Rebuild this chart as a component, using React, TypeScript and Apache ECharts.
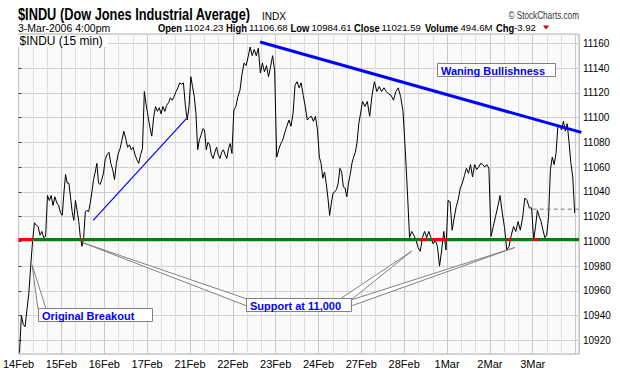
import React, { useEffect, useRef } from "react";
import * as echarts from "echarts";

// ---------- data ----------
const dayLabels = ["14Feb", "15Feb", "16Feb", "17Feb", "21Feb", "22Feb", "23Feb", "24Feb", "27Feb", "28Feb", "1Mar", "2Mar", "3Mar"];

const feb14 = [10910, 10940, 10933, 10931, 10945, 10958, 10980, 11000, 11015, 11013, 11012, 11005, 11008, 11003, 11004, 11037, 11033, 11037, 11029, 11036, 11031, 11029, 11023];
const feb15 = [11021, 11039, 11054, 11047, 11047, 11036, 11024, 11017, 11033, 11025, 11016, 11003, 10996, 11003, 11024, 11025, 11024, 11031, 11040, 11050, 11056, 11063, 11047, 11046, 11050, 11055];
const feb16 = [11066, 11070, 11072, 11063, 11058, 11050, 11063, 11071, 11075, 11082, 11089, 11083, 11076, 11078, 11074, 11076, 11070, 11066, 11063, 11070, 11075, 11121, 11110];
const feb17 = [11101, 11092, 11085, 11100, 11109, 11105, 11108, 11103, 11109, 11105, 11110, 11112, 11116, 11114, 11117, 11121, 11124, 11128, 11127, 11128, 11110, 11098, 11109];
const feb21 = [11133, 11125, 11117, 11103, 11074, 11082, 11086, 11091, 11090, 11074, 11080, 11078, 11070, 11067, 11072, 11076, 11070, 11067, 11072, 11074, 11070, 11067, 11075, 11079, 11071];
const feb22 = [11106, 11109, 11117, 11122, 11135, 11144, 11142, 11149, 11157, 11150, 11155, 11150, 11156, 11136, 11144, 11137, 11142, 11133, 11141, 11150, 11138];
const feb23 = [11068, 11074, 11079, 11082, 11088, 11093, 11098, 11093, 11103, 11126, 11129, 11124, 11128, 11118, 11109, 11098, 11100, 11101, 11097, 11101, 11090];
const feb24 = [11068, 11063, 11051, 11056, 11047, 11035, 11021, 11031, 11039, 11040, 11042, 11047, 11059, 11056, 11044, 11043, 11036, 11047, 11054, 11063, 11068, 11072, 11080, 11095, 11103];
const feb27 = [11113, 11109, 11113, 11101, 11118, 11129, 11121, 11125, 11121, 11124, 11121, 11119, 11118, 11114, 11121, 11124, 11117, 11105];
const feb28 = [11074, 11040, 11003, 11008, 11005, 11001, 10995, 10992, 11003, 11008, 11003, 11008, 11003, 10998, 11001, 10996, 10980, 10993, 11008, 10993];
const mar1 = [11033, 11032, 11009, 11019, 11028, 11034, 11043, 11047, 11053, 11059, 11055, 11062, 11052, 11062, 11058, 11060, 11063, 11062, 11060, 11062, 11059];
const mar2 = [11004, 11012, 11020, 11028, 11037, 11023, 11011, 10993, 10996, 11005, 11012, 11008, 11016, 11009, 11019, 11035, 11033, 11027, 11027];
const mar3 = [11001, 11012, 11025, 11020, 11016, 11009, 11003, 11005, 11020, 11058, 11068, 11062, 11071, 11093, 11093, 11090, 11097, 11089, 11095, 11080, 11063, 11052, 11023];

const dailyPrices = [feb14, feb15, feb16, feb17, feb21, feb22, feb23, feb24, feb27, feb28, mar1, mar2, mar3];

// annotation levels (data units: x = trading-day index, y = index value)
const supportLevel = 11001.5;
const prevClose = 11026;
const upTrend = [[1.74, 11017], [3.91, 11099]];
const waningTrend = [[5.638, 11161], [13.134, 11088]];
const breakoutSpan = [0, 0.342];
const supportSpan = [0.342, 13.08];
const belowSupportSpans = [[1.45, 1.49], [9.366, 9.522], [9.639, 9.988], [11.417, 11.503], [12.006, 12.115]];
const prevCloseSpan = [12.0, 13.08];
const breakoutTip = [0.315, 10981];
const supportTips = [[1.49, 10999], [9.173, 10992], [11.58, 10995]];

const FONT = '"Liberation Sans", Arial, sans-serif';

export default function App() {
  const ref = useRef<HTMLDivElement>(null);

  useEffect(() => {
    if (!ref.current) return;
    document.body.style.margin = "0";
    const chart = echarts.init(ref.current, undefined, { renderer: "svg" });

    const priceData = dailyPrices.flatMap((vals, i) =>
      vals.map((v, k) => [i + (k + 0.5) / vals.length, v])
    );

    const seg = (a: number[], level: number, color: string, width: number, z: number, extra: any = {}) => ({
      type: "line",
      data: [[a[0], level], [a[1], level]],
      symbol: "none",
      silent: true,
      z,
      lineStyle: { color, width, ...extra },
    });

    chart.setOption({
      animation: false,
      grid: {
        left: 18,
        right: 41,
        top: 34,
        bottom: 22,
        show: true,
        backgroundColor: "#fafafa",
        borderColor: "#a9b9a9",
        borderWidth: 1,
      },
      xAxis: {
        type: "value",
        min: 0,
        max: 13.08,
        interval: 1,
        axisLine: { show: false },
        axisTick: { show: false },
        axisLabel: {
          formatter: (v: number) => (Number.isInteger(v) && dayLabels[v]) || "",
          fontSize: 11,
          fontFamily: FONT,
          color: "#000",
          margin: 4,
          showMaxLabel: false,
        },
        splitLine: { show: true, lineStyle: { color: "#c8c8c8", width: 1 } },
        minorTick: { show: false, splitNumber: 3 },
        minorSplitLine: { show: true, lineStyle: { color: "#dedede", width: 1 } },
      },
      yAxis: {
        type: "value",
        position: "right",
        min: 10909,
        max: 11167.5,
        splitNumber: 13,
        minInterval: 20,
        maxInterval: 20,
        axisLine: { show: false },
        axisTick: { show: true, length: 3, lineStyle: { color: "#444" } },
        axisLabel: {
          formatter: (v: number) => (v % 20 === 0 ? String(v) : ""),
          fontSize: 10,
          fontFamily: FONT,
          color: "#000",
          margin: 4,
          showMinLabel: false,
          showMaxLabel: false,
        },
        splitLine: { show: true, lineStyle: { color: "#d0d0d0", width: 1 } },
      },
      series: [
        {
          type: "line",
          data: priceData,
          symbol: "none",
          silent: true,
          z: 3,
          lineStyle: { color: "#000", width: 1 },
        },
        seg(supportSpan, supportLevel, "#008000", 3, 4),
        seg(breakoutSpan, supportLevel, "#ff0000", 3, 5),
        ...belowSupportSpans.map((s) => seg(s, supportLevel, "#ff0000", 3, 5)),
        seg(prevCloseSpan, prevClose, "#8a6a8a", 1, 4, { type: [4, 3] }),
        {
          type: "line",
          data: upTrend,
          symbol: "none",
          silent: true,
          z: 4,
          lineStyle: { color: "#0000ff", width: 1.2 },
        },
        {
          type: "line",
          data: waningTrend,
          symbol: "none",
          silent: true,
          clip: false,
          z: 4,
          lineStyle: { color: "#0000ff", width: 3 },
        },
      ],
    });

    const px = (p: number[]) => chart.convertToPixel({ gridIndex: 0 }, p) as number[];

    const wedge = (tip: number[], b1: number[], b2: number[]) => ({
      type: "polygon",
      z: 20,
      shape: { points: [px(tip), b1, b2] },
      style: { fill: "#fff", stroke: "#808080", lineWidth: 1 },
    });
    const box = (x: number, y: number, w: number, h: number, label: string) => [
      {
        type: "rect",
        z: 21,
        shape: { x: x + 0.5, y: y + 0.5, width: w, height: h },
        style: { fill: "#fff", stroke: "#808080", lineWidth: 1 },
      },
      {
        type: "text",
        z: 22,
        x: x + 4,
        y: y + h / 2 + 1,
        style: {
          text: label,
          font: `bold 11px ${FONT}`,
          fill: "#0000ff",
          align: "left",
          verticalAlign: "middle",
        },
      },
    ];
    const txt = (x: number, y: number, text: string, font: string, fill = "#000", scaleX = 1, align = "left") => ({
      type: "text",
      z: 30,
      x,
      y,
      scaleX,
      style: { text, font, fill, align, verticalAlign: "middle" },
    });

    const L2 = 27.5;
    const LBL = `bold 11.5px ${FONT}`;
    const NUM = `9.6px ${FONT}`;
    const graphic: any[] = [
      // callout wedges
      wedge(breakoutTip, [38, 309], [46, 309]),
      wedge(supportTips[0], [247, 299], [247, 306]),
      wedge(supportTips[1], [340, 299], [352, 299]),
      wedge(supportTips[2], [351, 300], [351, 306]),
      ...box(38, 308, 114, 13, "Original Breakout"),
      ...box(246, 298, 105, 13, "Support at 11,000"),
      ...box(437, 63, 118, 13, "Waning Bullishness"),
      // in-plot label
      {
        type: "rect",
        z: 21,
        shape: { x: 18, y: 35, width: 90, height: 12 },
        style: { fill: "#fff" },
      },
      txt(19.5, 41, "$INDU (15 min)", `12px ${FONT}`),
      // header
      txt(18, 14.5, "$INDU (Dow Jones Industrial Average)", `bold 16px ${FONT}`, "#000", 0.8),
      txt(262, 16.5, "INDX", `10px ${FONT}`),
      txt(579, 15.5, "\u00A9 StockCharts.com", `10.5px ${FONT}`, "#333", 0.78, "right"),
      txt(18, L2, "3-Mar-2006 4:00pm", `10.5px ${FONT}`),
      txt(158, L2, "Open", LBL, "#000", 0.82),
      txt(184, L2, "11024.23", NUM),
      txt(226, L2, "High", LBL, "#000", 0.82),
      txt(249, L2, "11106.68", NUM),
      txt(290.5, L2, "Low", LBL, "#000", 0.82),
      txt(311.5, L2, "10984.61", NUM),
      txt(354, L2, "Close", LBL, "#000", 0.82),
      txt(381.5, L2, "11021.59", NUM),
      txt(425, L2, "Volume", LBL, "#000", 0.82),
      txt(460.5, L2, "494.6M", NUM),
      txt(496, L2, "Chg", LBL, "#000", 0.82),
      txt(514, L2, "-3.92", NUM),
      {
        type: "polygon",
        z: 30,
        shape: { points: [[543, L2 - 2], [549, L2 - 2], [546, L2 + 2]] },
        style: { fill: "#cc0000" },
      },
    ];

    chart.setOption({ graphic });

    return () => chart.dispose();
  }, []);

  return (
    <div
      ref={ref}
      style={{ position: "absolute", left: 0, top: 0, width: 620, height: 376, background: "#fff" }}
    />
  );
}
